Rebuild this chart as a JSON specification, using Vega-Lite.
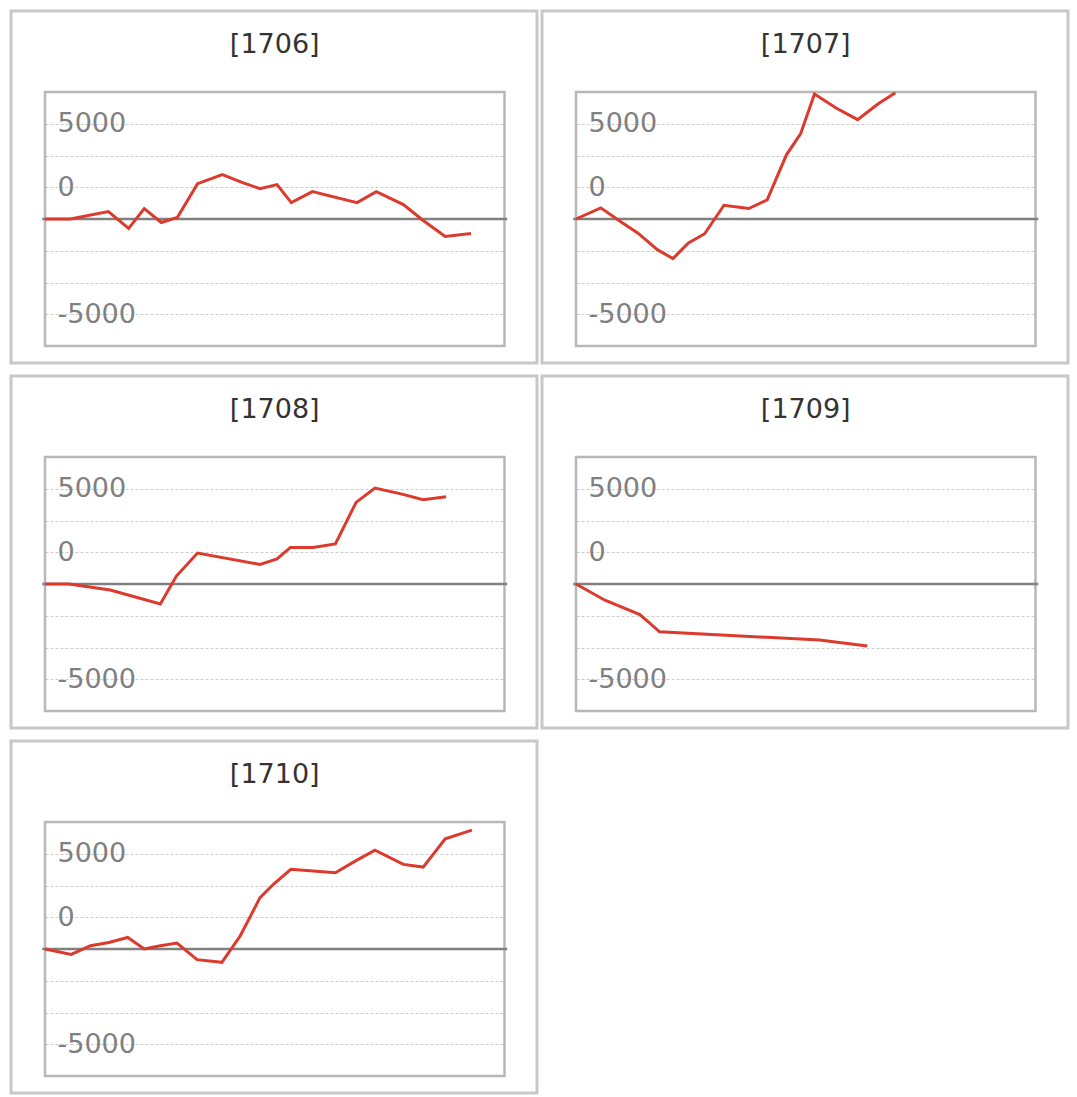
{
  "$schema": "https://vega.github.io/schema/vega-lite/v6.json",
  "padding": {"left": 9, "top": 9, "right": 5, "bottom": 3},
  "background": "#ffffff",
  "data": {
    "values": [
      {"panel": "[1706]", "x": 0, "v": 0},
      {"panel": "[1706]", "x": 5.5, "v": 0},
      {"panel": "[1706]", "x": 13.8, "v": 470},
      {"panel": "[1706]", "x": 18.2, "v": -596},
      {"panel": "[1706]", "x": 21.6, "v": 658},
      {"panel": "[1706]", "x": 25.3, "v": -220},
      {"panel": "[1706]", "x": 28.8, "v": 94},
      {"panel": "[1706]", "x": 33.2, "v": 2226},
      {"panel": "[1706]", "x": 38.6, "v": 2790},
      {"panel": "[1706]", "x": 43.0, "v": 2289},
      {"panel": "[1706]", "x": 46.8, "v": 1913},
      {"panel": "[1706]", "x": 50.5, "v": 2163},
      {"panel": "[1706]", "x": 53.6, "v": 1034},
      {"panel": "[1706]", "x": 58.2, "v": 1724},
      {"panel": "[1706]", "x": 67.9, "v": 1034},
      {"panel": "[1706]", "x": 72.1, "v": 1724},
      {"panel": "[1706]", "x": 78.0, "v": 909},
      {"panel": "[1706]", "x": 82.3, "v": -94},
      {"panel": "[1706]", "x": 87.1, "v": -1097},
      {"panel": "[1706]", "x": 92.7, "v": -909},

      {"panel": "[1707]", "x": 0, "v": 0},
      {"panel": "[1707]", "x": 5.4, "v": 702},
      {"panel": "[1707]", "x": 9.9, "v": -201},
      {"panel": "[1707]", "x": 13.5, "v": -890},
      {"panel": "[1707]", "x": 17.7, "v": -1931},
      {"panel": "[1707]", "x": 21.1, "v": -2495},
      {"panel": "[1707]", "x": 24.4, "v": -1517},
      {"panel": "[1707]", "x": 28.0, "v": -928},
      {"panel": "[1707]", "x": 32.2, "v": 865},
      {"panel": "[1707]", "x": 37.6, "v": 658},
      {"panel": "[1707]", "x": 41.6, "v": 1204},
      {"panel": "[1707]", "x": 45.8, "v": 4044},
      {"panel": "[1707]", "x": 48.9, "v": 5380},
      {"panel": "[1707]", "x": 51.9, "v": 7870},
      {"panel": "[1707]", "x": 56.6, "v": 6991},
      {"panel": "[1707]", "x": 61.3, "v": 6257},
      {"panel": "[1707]", "x": 65.7, "v": 7241},
      {"panel": "[1707]", "x": 69.5, "v": 7950},

      {"panel": "[1708]", "x": 0, "v": 0},
      {"panel": "[1708]", "x": 5.2, "v": 0},
      {"panel": "[1708]", "x": 14.2, "v": -376},
      {"panel": "[1708]", "x": 25.1, "v": -1254},
      {"panel": "[1708]", "x": 28.6, "v": 502},
      {"panel": "[1708]", "x": 33.2, "v": 1948},
      {"panel": "[1708]", "x": 46.8, "v": 1235},
      {"panel": "[1708]", "x": 50.5, "v": 1586},
      {"panel": "[1708]", "x": 53.4, "v": 2301},
      {"panel": "[1708]", "x": 58.3, "v": 2301},
      {"panel": "[1708]", "x": 63.2, "v": 2527},
      {"panel": "[1708]", "x": 67.7, "v": 5141},
      {"panel": "[1708]", "x": 71.8, "v": 6038},
      {"panel": "[1708]", "x": 77.7, "v": 5662},
      {"panel": "[1708]", "x": 82.3, "v": 5311},
      {"panel": "[1708]", "x": 87.3, "v": 5499},

      {"panel": "[1709]", "x": 0, "v": 0},
      {"panel": "[1709]", "x": 6.3, "v": -1022},
      {"panel": "[1709]", "x": 13.9, "v": -1925},
      {"panel": "[1709]", "x": 18.2, "v": -3010},
      {"panel": "[1709]", "x": 53.0, "v": -3530},
      {"panel": "[1709]", "x": 63.4, "v": -3906},

      {"panel": "[1710]", "x": 0, "v": 0},
      {"panel": "[1710]", "x": 5.7, "v": -339},
      {"panel": "[1710]", "x": 9.9, "v": 207},
      {"panel": "[1710]", "x": 13.9, "v": 414},
      {"panel": "[1710]", "x": 18.0, "v": 727},
      {"panel": "[1710]", "x": 21.6, "v": 0},
      {"panel": "[1710]", "x": 25.1, "v": 207},
      {"panel": "[1710]", "x": 28.7, "v": 376},
      {"panel": "[1710]", "x": 33.1, "v": -671},
      {"panel": "[1710]", "x": 38.5, "v": -840},
      {"panel": "[1710]", "x": 42.5, "v": 834},
      {"panel": "[1710]", "x": 46.8, "v": 3236},
      {"panel": "[1710]", "x": 49.7, "v": 4076},
      {"panel": "[1710]", "x": 53.5, "v": 5016},
      {"panel": "[1710]", "x": 63.2, "v": 4803},
      {"panel": "[1710]", "x": 67.5, "v": 5537},
      {"panel": "[1710]", "x": 71.8, "v": 6226},
      {"panel": "[1710]", "x": 78.0, "v": 5330},
      {"panel": "[1710]", "x": 82.3, "v": 5160},
      {"panel": "[1710]", "x": 87.1, "v": 6941},
      {"panel": "[1710]", "x": 92.9, "v": 7487}
    ]
  },
  "facet": {"field": "panel", "type": "nominal", "header": {"title": null, "labels": false, "labelFontSize": 0, "labelPadding": 0}},
  "columns": 2,
  "spacing": {"row": 9, "column": 1},
  "spec": {
    "width": 526,
    "height": 352,
    "layer": [
      {
        "transform": [{"aggregate": [{"op": "count", "as": "n"}], "groupby": ["panel"]}],
        "mark": {"type": "rect", "fill": "transparent", "stroke": "#b8b8b8", "strokeWidth": 2.5},
        "encoding": {
          "x": {"datum": 0, "type": "quantitative", "axis": null},
          "x2": {"datum": 100},
          "y": {"datum": -8000, "type": "quantitative"},
          "y2": {"datum": 8000}
        }
      },
      {
        "transform": [{"aggregate": [{"op": "count", "as": "n"}], "groupby": ["panel"]}],
        "mark": {"type": "rule", "color": "#808080", "strokeWidth": 2.5},
        "encoding": {
          "x": {"datum": -0.6, "type": "quantitative", "axis": null},
          "x2": {"datum": 100.6},
          "y": {"datum": 0, "type": "quantitative"}
        }
      },
      {
        "transform": [{"aggregate": [{"op": "count", "as": "n"}], "groupby": ["panel"]}],
        "mark": {"type": "text", "font": "DejaVu Sans", "fontSize": 27, "color": "#333333", "baseline": "middle", "align": "center"},
        "encoding": {
          "text": {"field": "panel", "type": "nominal"},
          "x": {"datum": 50, "type": "quantitative", "axis": null},
          "y": {"datum": 10930, "type": "quantitative"}
        }
      },
      {
        "mark": {"type": "line", "color": "#db3a2c", "strokeWidth": 3},
        "encoding": {
          "x": {
            "field": "x",
            "type": "quantitative",
            "axis": null,
            "scale": {"domain": [0, 100], "range": [34, 493.5], "nice": false, "zero": false}
          },
          "y": {
            "field": "v",
            "type": "quantitative",
            "scale": {"domain": [-8000, 8000], "range": [335, 81], "nice": false, "zero": false},
            "axis": {
              "title": null,
              "values": [-6000, -4000, -2000, 0, 2000, 4000, 6000],
              "grid": true,
              "gridColor": "#cccccc",
              "gridDash": [3, 2],
              "gridWidth": 1,
              "domain": false,
              "ticks": false,
              "offset": -34,
              "labelAlign": "left",
              "labelBaseline": "middle",
              "labelPadding": -12,
              "labelOverlap": false,
              "labelFlush": false,
              "labelFont": "DejaVu Sans",
              "labelFontSize": 27,
              "labelColor": "#808080",
              "labelExpr": "datum.value == 6000 ? '5000' : datum.value == 2000 ? '0' : datum.value == -6000 ? '-5000' : ''"
            }
          }
        }
      }
    ]
  },
  "resolve": {"axis": {"y": "independent"}},
  "config": {
    "font": "DejaVu Sans",
    "view": {"stroke": "#c8c8c8", "strokeWidth": 3},
    "header": {"labels": false, "title": null, "labelFontSize": 0, "labelPadding": 0},
    "headerFacet": {"labels": false, "title": null, "labelFontSize": 0, "labelPadding": 0}
  }
}
